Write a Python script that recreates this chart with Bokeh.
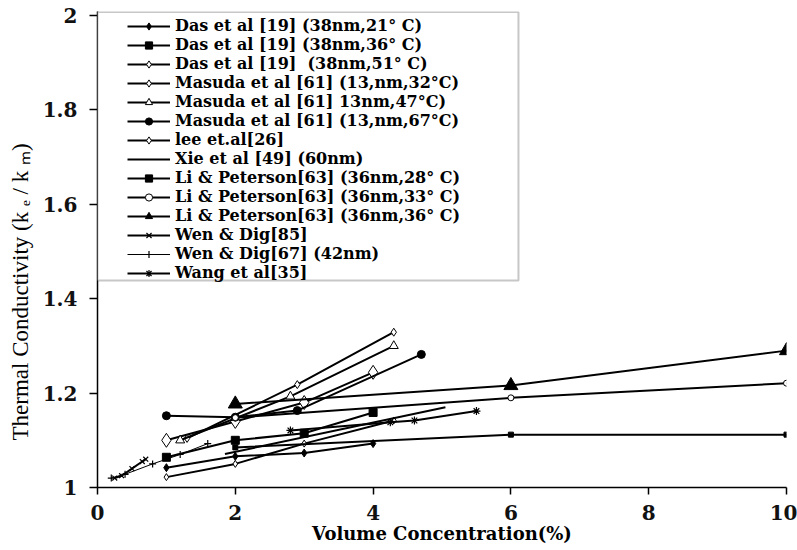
import math
from bokeh.plotting import figure
from bokeh.models import (Legend, LegendItem, FixedTicker, CustomJSTickFormatter,
                          BoxAnnotation, Range1d, Title)
from bokeh.embed import file_html
from bokeh.resources import INLINE

# ---------------- data ----------------
das21_x = [1, 2, 3, 4]
das21_y = [1.042, 1.066, 1.073, 1.093]
das36_x = [1, 2, 3, 4]
das36_y = [1.064, 1.100, 1.115, 1.159]
das51_x = [1, 2, 3, 4]
das51_y = [1.100, 1.140, 1.180, 1.244]
mas32_x = [1.3, 2.9, 4.3]
mas32_y = [1.104, 1.218, 1.329]
mas47_x = [1.2, 2.8, 4.3]
mas47_y = [1.100, 1.193, 1.300]
mas67_x = [1.0, 2.0, 2.9, 4.7]
mas67_y = [1.152, 1.149, 1.163, 1.282]
lee_x = [1, 2, 3, 4.3]
lee_y = [1.022, 1.050, 1.093, 1.142]
xie_x = [1.85, 5.05]
xie_y = [1.071, 1.170]
li28_x = [2, 6, 10]
li28_y = [1.085, 1.112, 1.112]
li33_x = [2, 6, 10]
li33_y = [1.148, 1.190, 1.221]
li36_x = [2, 6, 10]
li36_y = [1.177, 1.216, 1.290]
wen85_x = [0.25, 0.35, 0.5, 0.65, 0.7]
wen85_y = [1.020, 1.025, 1.040, 1.055, 1.060]
wen67_x = [0.2, 0.4, 0.8, 1.2, 1.6]
wen67_y = [1.020, 1.028, 1.050, 1.070, 1.093]
wang_x = [2.8, 4.25, 4.6, 5.5]
wang_y = [1.121, 1.138, 1.142, 1.162]

labels = [
    "Das et al [19] (38nm,21° C)",
    "Das et al [19] (38nm,36° C)",
    "Das et al [19]  (38nm,51° C)",
    "Masuda et al [61] (13,nm,32°C)",
    "Masuda et al [61] 13nm,47°C)",
    "Masuda et al [61] (13,nm,67°C)",
    "lee et.al[26]",
    "Xie et al [49] (60nm)",
    "Li & Peterson[63] (36nm,28° C)",
    "Li & Peterson[63] (36nm,33° C)",
    "Li & Peterson[63] (36nm,36° C)",
    "Wen & Dig[85]",
    "Wen & Dig[67] (42nm)",
    "Wang et al[35]",
]

x_ticks = [0, 2, 4, 6, 8, 10]
y_ticks = [1, 1.2, 1.4, 1.6, 1.8, 2]
x_title = "Volume Concentration(%)"
y_title = "Thermal Conductivity (k ₑ / k ₘ)"

# ---------------- styles ----------------
series = [
    (das21_x, das21_y, dict(marker="diamond", size=8, fill_color="black"), 2),
    (das36_x, das36_y, dict(marker="square", size=8, fill_color="black"), 2),
    (das51_x, das51_y, dict(marker="diamond", size=14, fill_color="white"), 2),
    (mas32_x, mas32_y, dict(marker="diamond", size=8, fill_color="white"), 2),
    (mas47_x, mas47_y, dict(marker="triangle", size=9, fill_color="white"), 2),
    (mas67_x, mas67_y, dict(marker="circle", size=8, fill_color="black"), 2),
    (lee_x, lee_y, dict(marker="diamond", size=7, fill_color="white"), 2),
    (xie_x, xie_y, None, 2),
    (li28_x, li28_y, dict(marker="square", size=5, fill_color="black"), 2),
    (li33_x, li33_y, dict(marker="circle", size=6, fill_color="white"), 2),
    (li36_x, li36_y, dict(marker="triangle", size=14, fill_color="black"), 2),
    (wen85_x, wen85_y, dict(marker="x", size=7, fill_color="black"), 2),
    (wen67_x, wen67_y, dict(marker="cross", size=7, fill_color="black"), 1),
    (wang_x, wang_y, dict(marker="asterisk", size=8, fill_color="black"), 2),
]

WIDE = "DejaVu Serif"
SERIF = "Liberation Serif"

p = figure(width=797, height=550, x_range=Range1d(0, 10), y_range=Range1d(1, 2.0085),
           output_backend="svg", toolbar_location=None,
           min_border_left=97, min_border_right=11, min_border_top=11, min_border_bottom=63)
p.xgrid.visible = False
p.ygrid.visible = False
p.outline_line_color = None
p.background_fill_color = "white"
p.border_fill_color = "white"

# legend frame box (drawn behind the legend)
box = BoxAnnotation(left=0, right=6.11, bottom=1.4386, top=2.0075,
                    fill_color="white", fill_alpha=1.0,
                    line_color="#444444", line_width=2)
p.add_layout(box)

items = []
for (xs, ys, mk, lw), lab in zip(series, labels):
    rs = []
    rl = p.line(xs, ys, line_color="black", line_width=lw)
    rs.append(rl)
    if mk is not None:
        rsc = p.scatter(xs, ys, marker=mk["marker"], size=mk["size"],
                        fill_color=mk["fill_color"], line_color="black",
                        line_width=1 if mk["marker"] not in ("x", "cross", "asterisk") else 1.2)
        rs.append(rsc)
    items.append(LegendItem(label=lab, renderers=rs))

legend = Legend(items=items, location=(28, 203), padding=2, spacing=0,
                label_height=18, glyph_height=18, glyph_width=43, label_standoff=5,
                border_line_alpha=0, background_fill_alpha=0, margin=0,
                label_text_font=WIDE, label_text_font_style="bold",
                label_text_font_size="16px", label_text_color="black",
                label_text_baseline="middle")
p.add_layout(legend)

# axes
for ax in (p.xaxis[0], p.yaxis[0]):
    ax.axis_line_color = "black"
    ax.axis_line_width = 1.5
    ax.major_tick_line_color = "black"
    ax.major_tick_line_width = 1.5
    ax.major_tick_in = 0
    ax.minor_tick_line_color = None
    ax.major_label_text_font = WIDE
    ax.major_label_text_font_style = "bold"
    ax.major_label_text_font_size = "20px"
    ax.major_label_text_color = "#111111"
    ax.axis_label_text_color = "black"

p.xaxis.ticker = FixedTicker(ticks=x_ticks)
p.yaxis.ticker = FixedTicker(ticks=y_ticks)
p.yaxis.formatter = CustomJSTickFormatter(code="return Number(tick.toFixed(1)).toString();")
p.xaxis.major_tick_out = 7
p.yaxis.major_tick_out = 8
p.xaxis.major_label_standoff = 10
p.yaxis.major_label_standoff = 12
p.xaxis.axis_label = x_title
p.xaxis.axis_label_text_font = WIDE
p.xaxis.axis_label_text_font_size = "18px"
p.xaxis.axis_label_text_font_style = "bold"
p.xaxis.axis_label_standoff = 0

# y-axis title, placed lower than the frame centre as in the reference
ytitle = Title(text=y_title, align="left", offset=47, vertical_align="middle", standoff=12,
               text_font=SERIF, text_font_size="23px", text_font_style="normal",
               text_color="black")
p.add_layout(ytitle, "left")

open("out.html", "w").write(file_html(p, INLINE))
